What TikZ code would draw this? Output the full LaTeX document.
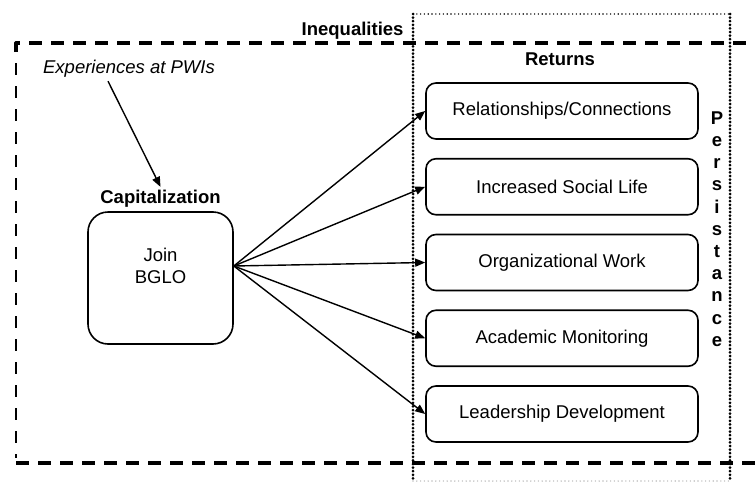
\documentclass[tikz,border=0pt]{standalone}
\usepackage{fontspec}
\setmainfont{Liberation Sans}
\usetikzlibrary{arrows.meta}
\usetikzlibrary{calc}
\usetikzlibrary{positioning}
\newcommand{\sz}{\fontsize{18.5pt}{22.5pt}\selectfont}

\begin{document}
\begin{tikzpicture}[>={Triangle[length=10pt,width=8pt]},x=1pt,y=-1pt
  ,line join=round,font=\sz
  ,retbox/.style={draw,line width=1.6pt,rounded corners=10pt,minimum width=272pt,minimum height=56pt}
  ,joinbox/.style={draw,line width=1.6pt,rounded corners=20pt,minimum width=145pt,minimum height=132pt}
  ,thickdash/.style={line width=3.2pt,dash pattern=on 13pt off 9pt}
  ,thindash/.style={line width=1.4pt,dash pattern=on 12pt off 11pt}
  ,heavydots/.style={line width=3pt,line cap=round,dash pattern=on 0pt off 3.6pt}
  ,lightdots/.style={line width=1.6pt,line cap=round,dash pattern=on 0pt off 3.8pt}
  ,arr/.style={line width=1.4pt,->}]
\useasboundingbox (0,0) rectangle (755,482);
\def\dtop{43}
\def\dbot{463}
\def\dleft{16}
\coordinate (DL) at (413,14);
\coordinate (DR) at (730,14);
\draw[thickdash] (\dleft,\dtop+9) -- (\dleft,\dtop) -- (755,\dtop);
\draw[thindash] (\dleft,\dtop+20) -- (\dleft,\dbot-5);
\draw[thickdash] (\dleft,\dbot) -- (755,\dbot);
\draw[heavydots] (DL) -- (DL |- 0,482);
\draw[heavydots] (DR) -- (DR |- 0,482);
\draw[lightdots] (DL) -- (DR);
\draw[lightdots,black!25] ($(DL |- 0,481)$) -- ($(DR |- 0,481)$);
\node[font=\sz\bfseries,anchor=east] (ineq) at (407,31) {Inequalities};
\node[font=\sz\bfseries] (ret) at (560,59) {Returns};
\foreach \t [count=\k] in {{Relationships/Connections},{Increased Social Life},
  {Organizational Work},{Academic Monitoring},{Leadership Development}}
  \node[retbox] (r\k) at (562,{111+75.75*(\k-1)}) {\t};
\node[font=\bfseries\fontsize{18.5pt}{22.2pt}\selectfont,align=center] (pers)
  at (717,229) {P\\e\\r\\s\\i\\s\\t\\a\\n\\c\\e};
\node[joinbox] (join) at (160.5,278) {};
\node[align=center] (jointxt) at ([yshift=12pt]join.center) {Join\\BGLO};
\node[font=\sz\bfseries,above=0pt of join] (cap) {Capitalization};
\node[font=\sz\itshape] (exp) at (129,69) {Experiences at PWIs};
\coordinate (fan) at (join.east |- jointxt.center);
\foreach \k in {1,...,5}
  \draw[arr] (fan) -- (r\k.west);
\draw[arr] ([xshift=-21pt]exp.south) -- (cap.north);

\end{tikzpicture}
\end{document}
